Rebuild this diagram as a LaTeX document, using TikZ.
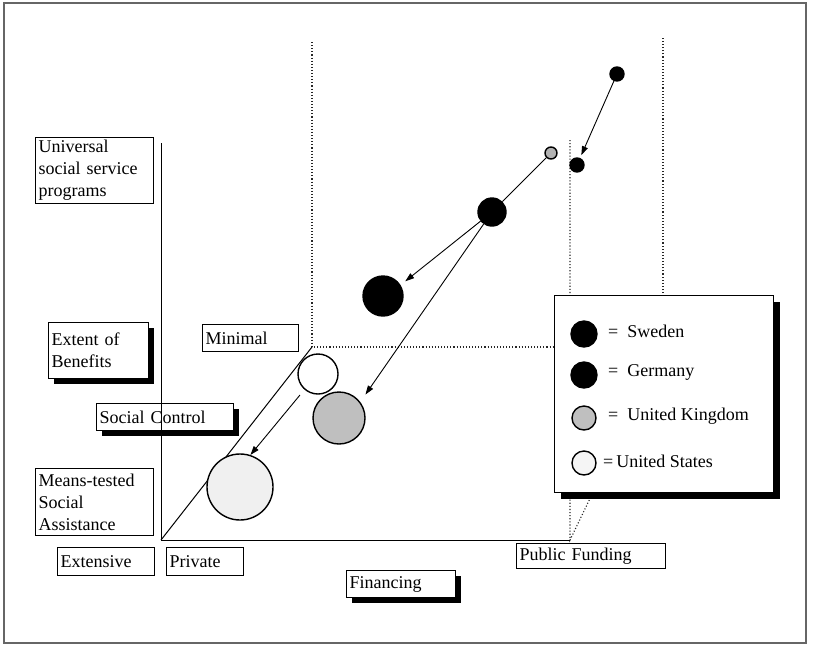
\documentclass[tikz,border=0pt]{standalone}
\usepackage{fontspec}
\setmainfont{Liberation Serif}
\usetikzlibrary{arrows.meta,shadows}
\newcommand\lab{\fontsize{18}{22}\selectfont}
\begin{document}
\begin{tikzpicture}[x=1pt,y=-1pt,
  bx/.style={draw, line width=1.2pt, fill=white, anchor=north west, align=left,
    inner xsep=3pt, inner ysep=1pt, font=\lab},
  sh/.style={drop shadow={shadow xshift=5pt, shadow yshift=-5pt, fill=black, opacity=1}},
  shl/.style={drop shadow={shadow xshift=6pt, shadow yshift=-6pt, fill=black, opacity=1}},
  dot/.style={dotted, line width=1.1pt, black!85},
  circ/.style={circle, draw, line width=1.4pt, inner sep=0pt},
  arr/.style={-{Triangle[length=9pt,width=6pt]}, line width=0.9pt},
  leg/.style={anchor=west, font=\lab, inner sep=0pt}]
\useasboundingbox (0,0) rectangle (813,646);
\draw[line width=1.2pt, black!60] (4,3) rectangle (806,643);
% cube (dotted)
\coordinate (c1) at (312,42);
\coordinate (c2) at (312,347);
\coordinate (c3) at (663,347);
\coordinate (c4) at (663,38);
\coordinate (c5) at (570,140);
\coordinate (c6) at (570,540);
\coordinate (o) at (161,540);
\coordinate (ytop) at (161,143);
\draw[dot] (c1) -- (c2) -- (c3) -- (c4);
\draw[dot] (c5) -- (c6) -- (c3);
% boxes
\node[bx, shl, minimum width=219pt, minimum height=197pt] (legend) at (554,295) {};
\node[bx, minimum width=118pt, text width=112pt, minimum height=66pt] (uni) at (35,137) {Universal\\social service\\programs};
\node[bx, sh, minimum width=100pt, text width=94pt, minimum height=56pt] (ext) at (48,322) {Extent of\\Benefits};
\node[bx, minimum width=96pt, text width=90pt, minimum height=27pt] (mini) at (202,324) {Minimal};
\node[bx, sh, minimum width=137pt, text width=131pt, minimum height=27pt] (soc) at (96,403) {Social Control};
\node[bx, minimum width=118pt, text width=112pt, minimum height=67pt] (means) at (35,468) {Means-tested\\Social\\Assistance};
\node[bx, minimum width=97pt, text width=91pt, minimum height=28pt] (extens) at (57,547) {Extensive};
\node[bx, minimum width=77pt, text width=71pt, minimum height=28pt] (priv) at (166,547) {Private};
\node[bx, sh, minimum width=109pt, text width=103pt, minimum height=27pt] (fin) at (346,570) {Financing};
\node[bx, minimum width=149pt, text width=143pt, minimum height=25pt] (pub) at (516,543) {Public Funding};
% axes
\draw[line width=1pt] (ytop) -- (o) -- (c6);
\draw[line width=1pt] (o) -- (c2);
% circles
\node[circ, fill=black, minimum size=14pt] (s1) at (617,74) {};
\node[circ, fill=black, minimum size=14pt] (g1) at (577,165) {};
\node[circ, fill=gray!60, minimum size=12pt] (uk1) at (551,153) {};
\node[circ, fill=black, minimum size=28pt] (m) at (492,212) {};
\node[circ, fill=black, minimum size=40pt] (b) at (383,296) {};
\node[circ, fill=gray!50, minimum size=52pt] (ukb) at (339,418) {};
\node[circ, fill=white, minimum size=40pt] (usw) at (318,374) {};
\node[circ, fill=gray!12, minimum size=66pt] (usb) at (240,487) {};
% connectors
\draw[arr, shorten >=3pt] (s1) -- (g1);
\draw[line width=0.9pt] (uk1) -- (m);
\draw[arr, shorten >=6pt] (m) -- (b.32);
\draw[arr, shorten >=9pt] (m) -- (ukb.37);
\draw[arr, shorten <=7pt] (usw.229) -- (usb.72);
% legend
\node[circ, fill=black, minimum size=26pt] (ls) at (584,334) {};
\node[circ, fill=black, minimum size=26pt] (lg) at (584,375) {};
\node[circ, fill=gray!50, minimum size=24pt] (lu) at (584,418) {};
\node[circ, fill=gray!8, minimum size=24pt] (lus) at (584,463) {};
\node[leg] (tls) at (608,331) {=\enspace Sweden};
\node[leg] (tlg) at (608,372) {=\enspace Germany};
\node[leg] (tlu) at (608,416) {=\enspace United Kingdom};
\node[leg] (tlus) at (603,461) {=\,United States};
\end{tikzpicture}
\end{document}
